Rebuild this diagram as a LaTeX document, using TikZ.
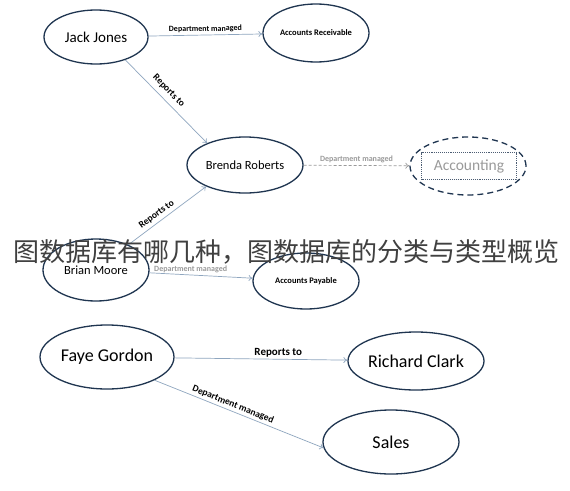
\documentclass[tikz,border=0pt]{standalone}
\usepackage{fontspec}
\setmainfont{Carlito}
\newfontfamily\cjk{Noto Sans CJK SC}
\usetikzlibrary{shapes.geometric,arrows.meta}
\definecolor{rim}{HTML}{1F3550}
\definecolor{wire}{HTML}{8FA6BF}
\definecolor{lbl}{HTML}{9A9A9A}
\tikzset{
  ent/.style={ellipse,draw=rim,line width=1.3pt,inner sep=0pt,fill=white},
  wireline/.style={draw=wire,line width=0.7pt,-{To[length=4pt,width=6pt]}},
  relb/.style={font=\bfseries\fontsize{8}{9}\selectfont,inner sep=2pt},
}
\begin{document}
\begin{tikzpicture}[x=1pt,y=-1pt]
\useasboundingbox[fill=white] (0,0) rectangle (570,490);
% entities
\node[ent,minimum width=104pt,minimum height=54pt,font=\fontsize{15}{17}\selectfont] (jj) at (96,37) {Jack Jones};
\node[ent,minimum width=106pt,minimum height=58pt,font=\bfseries\fontsize{8.5}{10}\selectfont] (ar) at (316,33) {Accounts Receivable};
\node[ent,minimum width=116pt,minimum height=56pt,font=\fontsize{12.5}{14}\selectfont] (br) at (245,165) {Brenda Roberts};
\node[ellipse,draw=rim,line width=1.3pt,dash pattern=on 6pt off 4pt,minimum width=116pt,minimum height=58pt,inner sep=0pt] (acc) at (468,166) {};
\node[draw=rim!80,densely dotted,line width=0.9pt,minimum width=95pt,minimum height=27pt,inner sep=0pt,text=lbl,font=\fontsize{15.5}{18}\selectfont] (accbox) at (469,166) {Accounting};
\node[ent,minimum width=106pt,minimum height=62pt,font=\fontsize{12.5}{14}\selectfont] (bm) at (96,270) {Brian Moore};
\node[ent,minimum width=106pt,minimum height=56pt,font=\bfseries\fontsize{8.5}{10}\selectfont] (ap) at (306,281) {Accounts Payable};
\node[ent,minimum width=134pt,minimum height=64pt,font=\fontsize{18}{20}\selectfont] (fg) at (107,357) {Faye Gordon};
\node[ent,minimum width=136pt,minimum height=58pt,font=\fontsize{18}{20}\selectfont] (rc) at (416,361) {Richard Clark};
\node[ent,minimum width=136pt,minimum height=64pt,font=\fontsize{18}{20}\selectfont] (sa) at (391,442) {Sales};
% connectors
\draw[wireline] (jj) -- node[relb,sloped,above] (l1) {Department managed} (ar);
\draw[wireline] (jj.322) -- node[relb,sloped,above=3pt,pos=0.45,font=\bfseries\fontsize{9.5}{11}\selectfont] (l2) {Reports to} (br.150);
\draw[wireline] (bm.38) -- node[relb,sloped,above=1pt,pos=0.42,font=\bfseries\fontsize{9.5}{11}\selectfont] (l3) {Reports to} (br.209);
\draw[wireline,densely dashed,draw=lbl] (br) -- node[relb,above,text=lbl] (l4) {Department managed} (acc);
\draw[wireline] (bm) -- node[relb,above,text=lbl,pos=0.4] (l5) {Department managed} (ap);
\draw[wireline] (fg) -- node[relb,above,font=\bfseries\fontsize{11}{13}\selectfont,pos=0.6] (l6) {Reports to} (rc);
\draw[wireline] (fg.-26) -- node[relb,sloped,above,font=\bfseries\fontsize{9.5}{11}\selectfont,pos=0.45] (l7) {Department managed} (sa.185);
% overlay caption
\node[font=\cjk\fontsize{26}{28}\selectfont,text=black!75,inner sep=0pt] (cap) at (286,252) {图数据库有哪几种，图数据库的分类与类型概览};
\end{tikzpicture}
\end{document}
